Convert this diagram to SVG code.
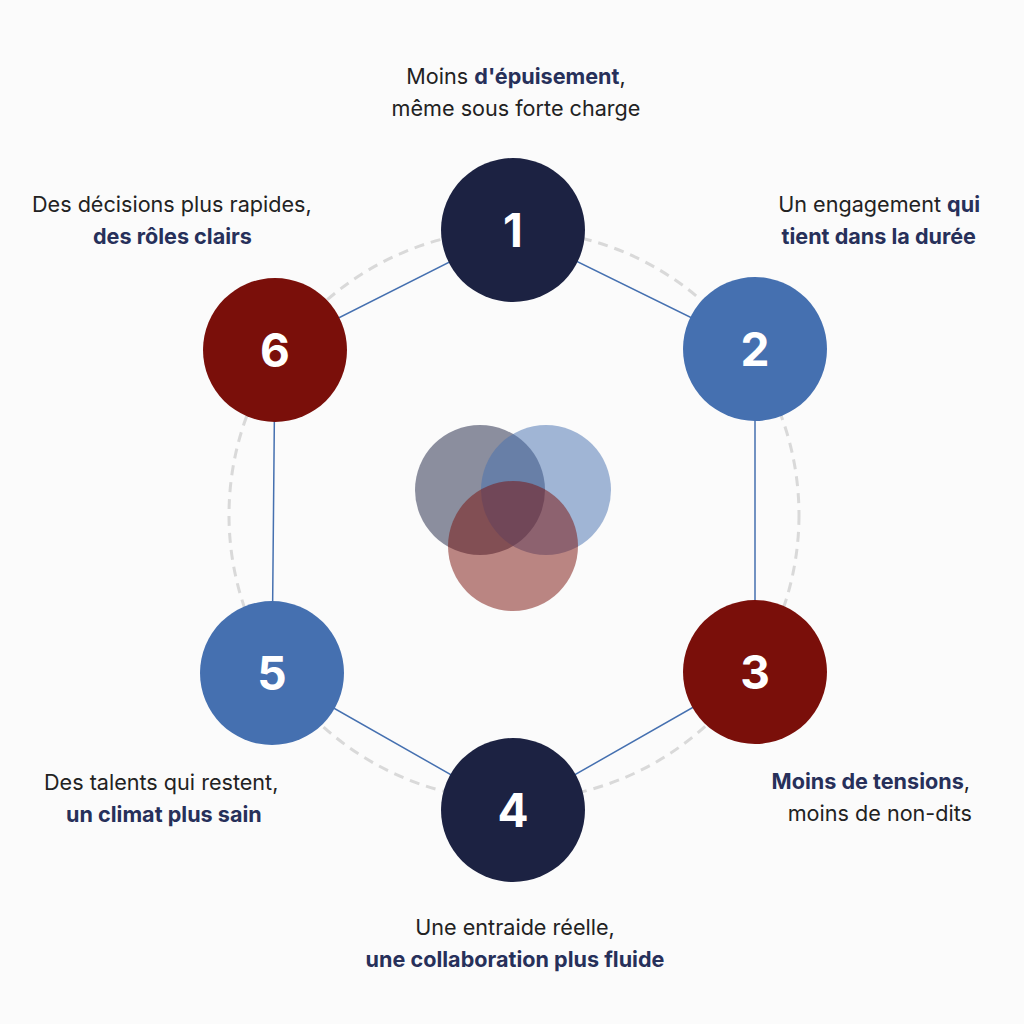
<svg xmlns="http://www.w3.org/2000/svg" width="1024" height="1024" viewBox="0 0 1024 1024">
<style>
.t{font-family:Inter,"Noto Sans",sans-serif;font-size:21.6px;fill:#222;}
.b{font-weight:700;fill:#27305a;}
.n{font-family:Inter,"Noto Sans",sans-serif;font-size:46px;font-weight:700;fill:#fff;text-anchor:middle;}
.navy{fill:#1c2242}.blue{fill:#4570b0}.red{fill:#7a0f0a}
</style>
<rect width="1024" height="1024" fill="#fbfbfb"/>
<circle cx="514" cy="515" r="285" fill="none" stroke="#d9d9d9" stroke-width="3" stroke-dasharray="10 7"/>
<g id="connectors" stroke="#4570b0" stroke-width="1.5" fill="none">
<polyline points="513,230 755,349 755,672 513,810 272,673 275,350 513,230"/>
</g>
<g id="center">
<circle cx="480" cy="490" r="65" fill="#1c2242" opacity="0.5"/>
<circle cx="546" cy="490" r="65" fill="#4570b0" opacity="0.5"/>
<circle cx="513" cy="546" r="65" fill="#7a0f0a" opacity="0.5"/>
</g>
<g id="node1"><circle class="navy" cx="513" cy="230" r="72"/><text class="n" x="513" y="247">1</text></g>
<g id="node2"><circle class="blue" cx="755" cy="349" r="72"/><text class="n" x="755" y="366">2</text></g>
<g id="node3"><circle class="red" cx="755" cy="672" r="72"/><text class="n" x="755" y="689">3</text></g>
<g id="node4"><circle class="navy" cx="513" cy="810" r="72"/><text class="n" x="513" y="827">4</text></g>
<g id="node5"><circle class="blue" cx="272" cy="673" r="72"/><text class="n" x="272" y="690">5</text></g>
<g id="node6"><circle class="red" cx="275" cy="350" r="72"/><text class="n" x="275" y="367">6</text></g>
<g id="labels">
<text class="t" x="516" y="84" text-anchor="middle">Moins <tspan class="b">d'épuisement</tspan>,</text>
<text class="t" x="516" y="116" text-anchor="middle">même sous forte charge</text>
<text class="t" x="980" y="212" text-anchor="end">Un engagement <tspan class="b">qui</tspan></text>
<text class="t b" x="976" y="244" text-anchor="end">tient dans la durée</text>
<text class="t" x="970" y="789" text-anchor="end"><tspan class="b">Moins de tensions</tspan>,</text>
<text class="t" x="972" y="821" text-anchor="end">moins de non-dits</text>
<text class="t" x="515" y="935" text-anchor="middle">Une entraide réelle,</text>
<text class="t b" x="515" y="967" text-anchor="middle">une collaboration plus fluide</text>
<text class="t" x="44" y="790">Des talents qui restent,</text>
<text class="t b" x="66" y="822">un climat plus sain</text>
<text class="t" x="32" y="212">Des décisions plus rapides,</text>
<text class="t b" x="93" y="244">des rôles clairs</text>
</g>
</svg>
